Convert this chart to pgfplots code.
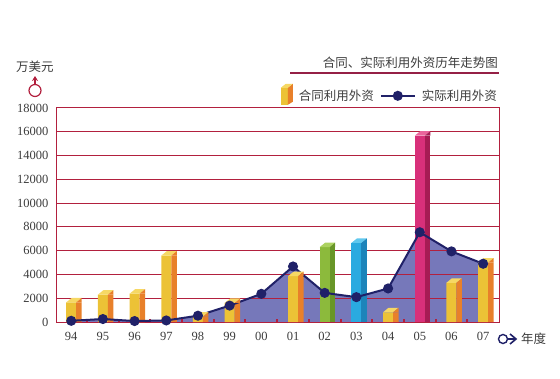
\documentclass[border=0pt]{standalone}
\usepackage{fontspec}
\setmainfont{Liberation Serif}
\newfontfamily\cjk{Noto Sans CJK SC}
\usepackage{pgfplots}
\usepackage{pgfplotstable}
\pgfplotsset{compat=1.18}
\usetikzlibrary{arrows.meta}

\definecolor{gridred}{RGB}{178,32,62}
\definecolor{navy}{RGB}{32,33,104}
\definecolor{areab}{RGB}{118,120,186}
\definecolor{txt}{RGB}{60,60,60}
\definecolor{yFront}{RGB}{236,194,54}
\definecolor{ySide}{RGB}{232,128,42}
\definecolor{yTop}{RGB}{246,216,100}
\definecolor{gFront}{RGB}{140,186,60}
\definecolor{gSide}{RGB}{104,150,40}
\definecolor{gTop}{RGB}{172,210,96}
\definecolor{bFront}{RGB}{42,170,224}
\definecolor{bSide}{RGB}{28,132,186}
\definecolor{bTop}{RGB}{96,200,238}
\definecolor{pFront}{RGB}{216,48,122}
\definecolor{pSide}{RGB}{166,28,84}
\definecolor{pTop}{RGB}{234,100,156}

\newcommand{\defcube}[3]{%
  \pgfdeclareplotmark{#1}{%
    \pgfpathmoveto{\pgfqpoint{-5pt}{0pt}}%
    \pgfpathlineto{\pgfqpoint{5pt}{0pt}}%
    \pgfpathlineto{\pgfqpoint{10.5pt}{4.5pt}}%
    \pgfpathlineto{\pgfqpoint{0.5pt}{4.5pt}}%
    \pgfpathclose
    \pgfsetfillcolor{#2}\pgfusepath{fill}%
    \pgfpathmoveto{\pgfqpoint{5pt}{0pt}}%
    \pgfpathlineto{\pgfqpoint{10.5pt}{4.5pt}}%
    \pgfpathlineto{\pgfqpoint{10.5pt}{0pt}}%
    \pgfpathclose
    \pgfsetfillcolor{#3}\pgfusepath{fill}%
  }}
\defcube{cubeY}{yTop}{ySide}
\defcube{cubeG}{gTop}{gSide}
\defcube{cubeB}{bTop}{bSide}
\defcube{cubeP}{pTop}{pSide}

\pgfplotstableread{
x y
0 100
1 250
2 80
3 130
4 530
5 1380
6 2370
7 4670
8 2450
9 2090
10 2820
11 7550
12 5940
13 4900
}\actual

\pgfplotstableread{
x y
0 1650
1 2300
2 2380
3 5580
4 450
5 1600
7 3850
10 820
12 3300
13 5000
}\yellowbars

\pgfplotstableread{
x y
8 6300
}\greenbars

\pgfplotstableread{
x y
9 6650
}\bluebars

\pgfplotstableread{
x y
11 15670
}\pinkbars

\begin{document}
\begin{tikzpicture}[x=1pt,y=1pt]
\begin{axis}[
  at={(56pt,56pt)}, anchor=south west,
  scale only axis, width=443pt, height=214pt,
  set layers,
  xmin=-0.48, xmax=13.5, ymin=0, ymax=18000,
  xtick={0,...,13},
  xticklabels={94,95,96,97,98,99,00,01,02,03,04,05,06,07},
  minor xtick={0.5,1.5,...,12.5},
  ytick={0,2000,...,18000},
  tick pos=left,
  scaled y ticks=false,
  /pgf/number format/1000 sep={},
  /pgf/number format/assume math mode=true,
  ymajorgrids,
  grid style={gridred, line width=1pt},
  axis line style={gridred, line width=1pt},
  major tick length=0pt,
  minor tick length=3pt,
  tick align=inside,
  minor tick style={gridred, line width=2pt},
  tick label style={font=\fontsize{12.5}{14}\selectfont, text=txt},
  xticklabel style={yshift=-7pt},
  yticklabel style={xshift=-4pt},
  legend style={at={(1,1)}, anchor=south east, yshift=3pt, draw=none, fill=none,
    inner sep=0pt, legend columns=2, column sep=4pt,
    font=\cjk\fontsize{12.5}{14}\selectfont, text=txt},
]
% area under actual line
\addplot[on layer=axis background, fill=areab, draw=none, forget plot] table {\actual} \closedcycle;

% yellow bars
\addplot[ybar, bar width=10pt, bar shift=0pt, fill=yFront, draw=none,
  legend image code/.code={%
    \fill[yFront] (0pt,-9pt) rectangle (7pt,8pt);
    \fill[ySide] (7pt,-9pt) -- (7pt,8pt) -- (12pt,12pt) -- (12pt,-6pt) -- cycle;
    \fill[yTop] (0pt,8pt) -- (7pt,8pt) -- (12pt,12pt) -- (5pt,12pt) -- cycle;
  }] table {\yellowbars};
\addlegendentry{合同利用外资}
\addplot[ybar, bar width=5.5pt, bar shift=7.75pt, fill=ySide, draw=none, forget plot] table {\yellowbars};
\addplot[only marks, mark=cubeY, forget plot] table {\yellowbars};

% green
\addplot[ybar, bar width=10pt, bar shift=0pt, fill=gFront, draw=none, forget plot] table {\greenbars};
\addplot[ybar, bar width=5.5pt, bar shift=7.75pt, fill=gSide, draw=none, forget plot] table {\greenbars};
\addplot[only marks, mark=cubeG, forget plot] table {\greenbars};
% blue
\addplot[ybar, bar width=10pt, bar shift=0pt, fill=bFront, draw=none, forget plot] table {\bluebars};
\addplot[ybar, bar width=5.5pt, bar shift=7.75pt, fill=bSide, draw=none, forget plot] table {\bluebars};
\addplot[only marks, mark=cubeB, forget plot] table {\bluebars};
% pink
\addplot[ybar, bar width=10pt, bar shift=0pt, fill=pFront, draw=none, forget plot] table {\pinkbars};
\addplot[ybar, bar width=5.5pt, bar shift=7.75pt, fill=pSide, draw=none, forget plot] table {\pinkbars};
\addplot[only marks, mark=cubeP, forget plot] table {\pinkbars};

% actual line
\addplot[navy, line width=2pt, mark=*, mark size=4pt, mark options={fill=navy, draw=navy},
  legend image code/.code={%
    \draw[navy, line width=2pt] (0pt,0pt) -- (34pt,0pt);
    \fill[navy] (17pt,0pt) circle (4pt);
  }] table {\actual};
\addlegendentry{实际利用外资}
\end{axis}

% title
\node[anchor=east, inner sep=0pt, text=txt, font=\cjk\fontsize{12.5}{14}\selectfont] at (498,315) {合同、实际利用外资历年走势图};
\draw[gridred!80!navy, line width=1.5pt] (290,305) -- (499,305);

% y unit
\node[inner sep=0pt, text=txt, font=\cjk\fontsize{12.5}{14}\selectfont] at (35,311) {万美元};
\draw[gridred, line width=1.2pt] (35,287.5) circle (6);
\draw[gridred, line width=1.2pt, -{Stealth[length=5pt,width=6pt]}] (35,293.5) -- (35,302);

% x unit
\draw[navy, line width=1.4pt] (503,39) circle (4.5);
\draw[navy, line width=1.6pt] (510,44) -- (516,39) -- (510,34);
\draw[navy, line width=1.4pt] (507.5,39) -- (515,39);
\node[anchor=west, inner sep=0pt, text=txt, font=\cjk\fontsize{12.5}{14}\selectfont] at (521,39) {年度};

\pgfresetboundingbox
\path[use as bounding box] (0,0) rectangle (560,378);
\end{tikzpicture}
\end{document}
